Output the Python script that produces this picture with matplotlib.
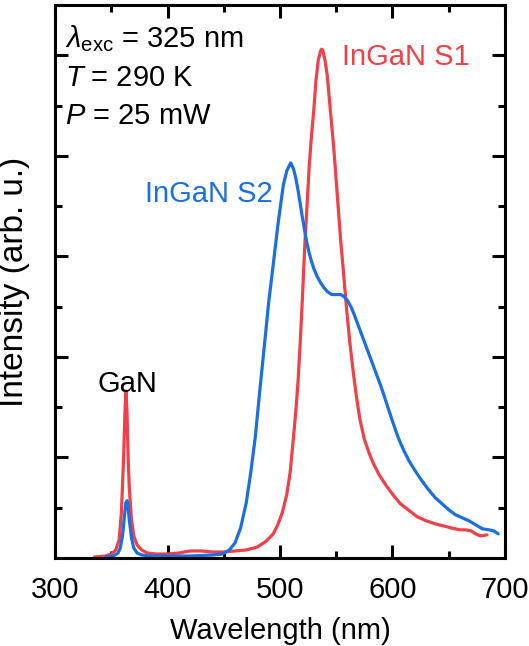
import numpy as np
import matplotlib.pyplot as plt

plt.rcParams['font.family'] = ['Liberation Sans', 'DejaVu Sans']
plt.rcParams['mathtext.fontset'] = 'custom'
plt.rcParams['mathtext.rm'] = 'Liberation Sans'
plt.rcParams['mathtext.it'] = 'Liberation Sans:italic'

# InGaN S1 (red), includes GaN band-edge peak
wl_s1 = [335, 345, 350, 354, 357, 359, 361, 362, 363, 364, 365, 366, 368, 370,
         373, 377, 382, 390, 400, 410, 420, 430, 440, 450, 460, 470, 480, 488,
         494, 498, 502, 506, 509, 512, 514, 516, 518, 520, 522, 524, 526, 528,
         530, 532, 534, 536, 537, 538, 540, 542, 544, 546, 548, 550, 552, 554,
         556, 559, 562, 565, 568, 571, 575, 579, 583, 588, 595, 601, 607, 615,
         622, 630, 638, 645, 652, 660, 665, 670, 674, 678, 684]
int_s1 = [0.01, 0.02, 0.04, 0.08, 0.18, 0.45, 1.0, 1.4, 1.66, 1.45, 1.0, 0.7,
          0.38, 0.22, 0.13, 0.08, 0.05, 0.04, 0.04, 0.05, 0.07, 0.07, 0.06, 0.06,
          0.07, 0.08, 0.11, 0.17, 0.24, 0.33, 0.45, 0.63, 0.85, 1.2, 1.45, 1.75,
          2.15, 2.6, 3.1, 3.5, 3.9, 4.2, 4.45, 4.75, 4.95, 5.04, 5.06, 5.05, 4.95,
          4.8, 4.55, 4.3, 4.05, 3.75, 3.45, 3.15, 2.9, 2.5, 2.15, 1.86, 1.6, 1.38,
          1.18, 1.05, 0.94, 0.83, 0.71, 0.62, 0.54, 0.47, 0.41, 0.37, 0.34, 0.32,
          0.3, 0.28, 0.28, 0.27, 0.24, 0.22, 0.23]

# InGaN S2 (blue)
wl_s2 = [345, 352, 356, 358, 360, 362, 363, 364, 365, 366, 368, 370, 373, 377,
         385, 400, 420, 440, 449, 455, 460, 465, 470, 474, 478, 482, 486, 490,
         494, 498, 501, 503, 506, 509.5, 512, 514, 516, 518, 520, 522, 524, 526,
         528, 530, 533, 536, 539, 542, 546, 550, 554, 557, 560, 563, 566, 570,
         575, 580, 585, 590, 595, 600, 605, 610, 615, 620, 626, 632, 638, 644,
         650, 656, 662, 668, 674, 680, 686, 690, 694]
int_s2 = [0.01, 0.02, 0.05, 0.1, 0.22, 0.45, 0.55, 0.57, 0.5, 0.38, 0.2, 0.1,
          0.05, 0.03, 0.02, 0.02, 0.02, 0.03, 0.04, 0.08, 0.15, 0.3, 0.55, 0.85,
          1.2, 1.66, 2.1, 2.55, 2.92, 3.3, 3.55, 3.71, 3.85, 3.93, 3.87, 3.78,
          3.66, 3.52, 3.38, 3.25, 3.13, 3.03, 2.95, 2.88, 2.8, 2.74, 2.69, 2.65,
          2.62, 2.62, 2.62, 2.6, 2.56, 2.5, 2.42, 2.3, 2.15, 2.0, 1.85, 1.7,
          1.53, 1.36, 1.2, 1.07, 0.96, 0.87, 0.77, 0.68, 0.6, 0.54, 0.48, 0.43,
          0.4, 0.37, 0.33, 0.29, 0.28, 0.27, 0.24]

red = '#ee4149'
blue = '#1c6fe0'

fig = plt.figure(figsize=(5.29, 6.46), dpi=100)
ax = fig.add_axes([0.104, 0.1362, 0.8506, 0.8561])

ax.plot(wl_s1, int_s1, color=red, lw=2.3, solid_capstyle='round')
ax.plot(wl_s2, int_s2, color=blue, lw=2.3, solid_capstyle='round')

ax.set_xlim(300, 700)
ax.set_ylim(0, 5.48)
ax.set_xticks([300, 400, 500, 600, 700])
ax.set_xticks([350, 450, 550, 650], minor=True)
ax.set_yticks([1, 2, 3, 4, 5])
ax.set_yticks([0.5, 1.5, 2.5, 3.5, 4.5, 5.5], minor=True)
ax.set_yticklabels([])
ax.tick_params(which='both', direction='in', top=True, right=True, width=2.2,
               labelsize=21, pad=13)
ax.tick_params(which='major', length=9.5)
ax.tick_params(which='minor', length=5)
for s in ax.spines.values():
    s.set_linewidth(2.2)

ax.set_xlabel('Wavelength (nm)', fontsize=21, labelpad=9)
ax.set_ylabel('Intensity (arb. u.)', fontsize=24)
ax.yaxis.set_label_coords(-0.055, 0.5)

fs = 21
ax.text(308.9, 5.08, r'$\lambda_{\mathrm{exc}}$ = 325 nm', fontsize=fs, va='baseline')
ax.text(308.9, 4.69, r'$T$ = 290 K', fontsize=fs, va='baseline')
ax.text(308.9, 4.32, r'$P$ = 25 mW', fontsize=fs, va='baseline')
ax.text(555, 4.90, 'InGaN S1', fontsize=fs, color=red, va='baseline')
ax.text(380, 3.54, 'InGaN S2', fontsize=fs, color=blue, va='baseline')
ax.text(338, 1.65, 'GaN', fontsize=fs, va='baseline')

fig.savefig('out.png', dpi=100)
